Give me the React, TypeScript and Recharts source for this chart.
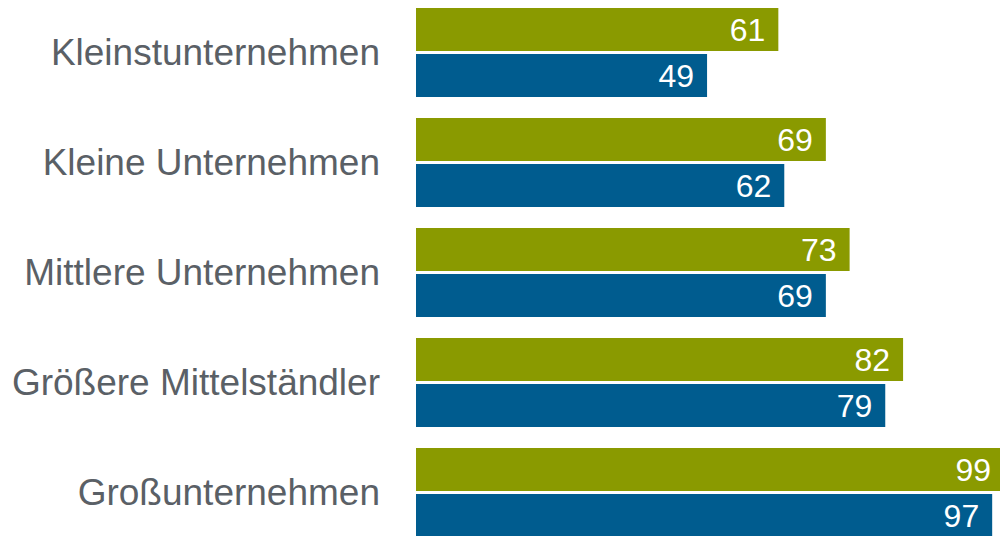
import { BarChart, Bar, XAxis, YAxis, LabelList } from 'recharts'

const categories = ['Kleinstunternehmen', 'Kleine Unternehmen', 'Mittlere Unternehmen', 'Größere Mittelständler', 'Großunternehmen']
const greenValues = [61, 69, 73, 82, 99]
const blueValues = [49, 62, 69, 79, 97]

const GREEN = '#8A9A00'
const BLUE = '#005C8F'
const FONT = '"Liberation Sans", Arial, sans-serif'

const data = categories.map((name, i) => ({ name, green: greenValues[i], blue: blueValues[i] }))

export default function App() {
  return (
    <div style={{ position: 'absolute', left: 0, top: 0, width: 1000, height: 536, overflow: 'hidden', background: '#fff' }}>
      <div style={{ position: 'absolute', left: 0, top: -3 }}>
        <BarChart
          width={1010}
          height={550}
          data={data}
          layout="vertical"
          margin={{ top: 0, right: 0, bottom: 0, left: 0 }}
          barGap={3}
          barSize={43}
        >
          <XAxis type="number" domain={[0, 100]} hide />
          <YAxis
            type="category"
            dataKey="name"
            width={416}
            axisLine={false}
            tickLine={false}
            tickSize={0}
            tickMargin={36}
            tick={{ fill: '#5A6066', fontSize: 37, fontFamily: FONT }}
          />
          <Bar dataKey="green" fill={GREEN} isAnimationActive={false}>
            <LabelList dataKey="green" position="insideRight" offset={13} fill="#fff" style={{ fontSize: 32, fontFamily: FONT }} />
          </Bar>
          <Bar dataKey="blue" fill={BLUE} isAnimationActive={false}>
            <LabelList dataKey="blue" position="insideRight" offset={13} fill="#fff" style={{ fontSize: 32, fontFamily: FONT }} />
          </Bar>
        </BarChart>
      </div>
    </div>
  )
}
